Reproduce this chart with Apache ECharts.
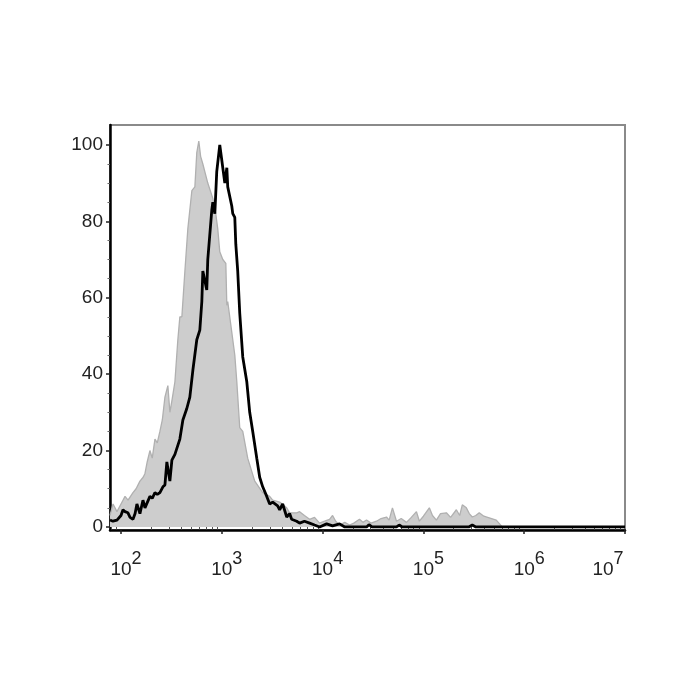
<!DOCTYPE html>
<html><head><meta charset="utf-8">
<script src="https://cdn.jsdelivr.net/npm/echarts@6/dist/echarts.min.js"></script>
<style>html,body{margin:0;background:#fff}#c{width:700px;height:700px}</style>
</head><body><div id="c"></div>
<script>
// log10 fluorescence intensity and event counts (% of max)
const isotypeLogX = [1.891,1.921,1.96,2.02,2.04,2.07,2.119,2.15,2.188,2.22,2.238,2.26,2.287,2.31,2.337,2.36,2.386,2.41,2.436,2.465,2.485,2.505,2.535,2.564,2.584,2.604,2.634,2.663,2.703,2.733,2.752,2.772,2.79,2.812,2.861,2.911,2.94,2.96,2.98,3.01,3.04,3.05,3.059,3.099,3.129,3.149,3.178,3.208,3.257,3.327,3.406,3.475,3.505,3.574,3.644,3.673,3.743,3.772,3.82,3.871,3.92,3.97,4.02,4.069,4.099,4.13,4.168,4.22,4.267,4.31,4.366,4.40,4.436,4.48,4.535,4.58,4.634,4.66,4.693,4.733,4.78,4.832,4.88,4.931,4.96,5.0,5.059,5.09,5.129,5.17,5.228,5.27,5.327,5.36,5.386,5.426,5.455,5.485,5.52,5.554,5.6,5.653,5.723,5.782,7.0];
const isotypeCount = [3,6,4,7,8,7,9,10,12,13,14,17,20,18,23,22,25,28,34,37,30,33,38,49,55,55,67,78,88,89,98,101,97,95,90,86,82,78,72,70,69,58,59,51,45,38,26,25,18,12,9,8,7,6.5,5,3.7,3.7,4,3,2,2.5,1,1.5,2,3,1.5,0.5,1.2,0.5,1,2,1.2,1.8,1,1.5,2.2,2.6,1.8,5,1.5,2.2,1.2,2.5,4,1.5,2.8,5,3,1.8,3.5,3.7,2.5,4.5,3,5.8,5,3.5,2.6,3,3.7,2.8,2.4,1.8,0,0];
const stainedLogX = [1.891,1.92,1.96,2.0,2.02,2.04,2.069,2.09,2.119,2.14,2.158,2.188,2.218,2.238,2.257,2.287,2.31,2.337,2.36,2.386,2.416,2.436,2.455,2.485,2.505,2.535,2.584,2.614,2.653,2.683,2.713,2.752,2.782,2.802,2.812,2.851,2.861,2.901,2.911,2.931,2.95,2.98,3.01,3.03,3.05,3.059,3.099,3.109,3.129,3.139,3.158,3.178,3.208,3.248,3.277,3.307,3.347,3.376,3.406,3.446,3.475,3.505,3.554,3.574,3.604,3.644,3.673,3.693,3.743,3.772,3.82,3.871,3.92,3.97,4.04,4.099,4.168,4.22,4.436,4.46,4.49,4.733,4.76,4.79,5.45,5.485,5.52,7.0];
const stainedCount = [1.8,1.5,1.8,3,4.5,4,3.7,2.5,2,3.5,6,3.5,7,5,5,8,7.5,9,8.5,9,10.5,11,17,12,17.5,19,23,28,31,34,41,49,51.5,59,67,62,70,83,85,82,93,100,94,90,94,89,84,82,81,74,67,56,44.5,38,30,25,18,13,10.5,8,6,6.5,5.5,4.5,6,2.6,3.5,2,1.5,1,1.5,1,0.5,0,0.8,0.3,0.8,0,0,0.6,0,0,0.5,0,0,0.5,0,0];
const xDecades = [2,3,4,5,6,7];
const yTicks = [0,20,40,60,80,100];

const xMinorTicks = [];
for (let d = 1; d <= 6; d++) for (let k = 2; k <= 9; k++) {
  const v = d + Math.log10(k);
  if (v > 1.891 && v < 7) xMinorTicks.push(v);
}
const yMinorTicks = [];
for (let v = 0; v <= 100; v += 5) if (v % 20) yMinorTicks.push(v);

const pair = (xs, ys) => xs.map((x, i) => [x, ys[i]]);
const chart = echarts.init(document.getElementById('c'));
const XMIN = 1.891, XMAX = 7, YMIN = -0.8, YMAX = 105.2;
const FONT = 'Liberation Sans, Arial';
chart.setOption({
  animation: false,
  backgroundColor: '#fff',
  grid: {left: 110, right: 75, top: 125, bottom: 170, show: true, borderColor: '#8a8a8a', borderWidth: 2, backgroundColor: 'transparent'},
  xAxis: [{
    type: 'value', min: XMIN, max: XMAX, position: 'bottom',
    axisLine: {show: true, onZero: false, lineStyle: {color: '#000', width: 2.5}},
    splitLine: {show: false},
    axisTick: {show: true, customValues: xDecades, length: 4, lineStyle: {color: '#222', width: 1.5}},
    axisLabel: {
      customValues: xDecades, margin: 20, showMaxLabel: true,
      formatter: v => {
        const n = Math.round(v);
        return n === 7 ? '{b|10}{s7|' + n + '}' : '{b|10}{s|' + n + '}';
      },
      rich: {
        b: {fontFamily: FONT, fontSize: 19, color: '#222', padding: [0,0,0,10]},
        s: {fontFamily: FONT, fontSize: 18, color: '#222', padding: [0,0,22,0]},
        s7: {fontFamily: FONT, fontSize: 18, color: '#222', padding: [0,44,22,0]}
      }
    }
  }, {
    type: 'value', min: XMIN, max: XMAX, position: 'bottom',
    axisLine: {show: false}, splitLine: {show: false},
    axisTick: {show: true, customValues: xMinorTicks, length: 2.5, lineStyle: {color: '#555', width: 1}},
    axisLabel: {show: false}
  }],
  yAxis: [{
    type: 'value', min: YMIN, max: YMAX,
    axisLine: {show: true, onZero: false, lineStyle: {color: '#000', width: 2.5}},
    splitLine: {show: false},
    axisTick: {show: true, customValues: yTicks, length: 4, lineStyle: {color: '#222', width: 1.5}},
    axisLabel: {customValues: yTicks, margin: 7, fontFamily: FONT, fontSize: 19, color: '#222', padding: [11,0,0,0]}
  }, {
    type: 'value', min: YMIN, max: YMAX, position: 'left',
    axisLine: {show: false}, splitLine: {show: false},
    axisTick: {show: true, customValues: yMinorTicks, length: 2.5, lineStyle: {color: '#666', width: 1}},
    axisLabel: {show: false}
  }],
  series: [{
    type: 'line', name: 'Isotype', data: pair(isotypeLogX, isotypeCount),
    symbol: 'none', z: 2,
    lineStyle: {color: '#b0b0b0', width: 1.3},
    areaStyle: {color: '#cdcdcd', opacity: 1}
  }, {
    type: 'line', name: 'Stained', data: pair(stainedLogX, stainedCount),
    symbol: 'none', z: 3,
    lineStyle: {color: '#000', width: 2.8}
  }]
});
</script>
</body></html>
